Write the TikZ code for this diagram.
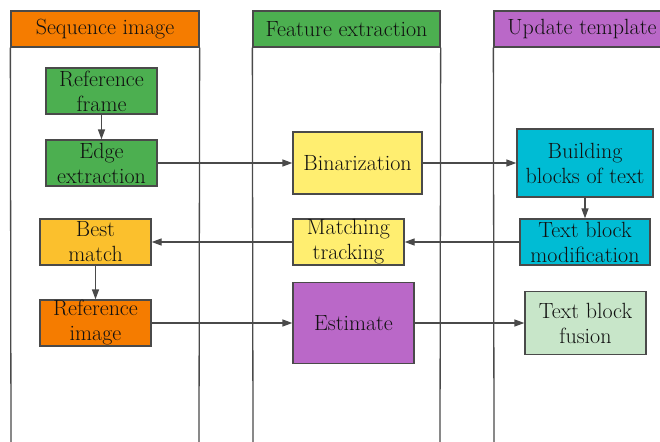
\documentclass[tikz,border=0pt]{standalone}
\usetikzlibrary{arrows.meta}
\definecolor{lineclr}{HTML}{4A4A4A}
\definecolor{txtclr}{HTML}{111111}
\definecolor{laneorange}{HTML}{F57C00}
\definecolor{lanegreen}{HTML}{4CAF50}
\definecolor{lanepurple}{HTML}{BA68C8}
\definecolor{boxyellow}{HTML}{FFEE70}
\definecolor{boxcyan}{HTML}{00BCD4}
\definecolor{boxamber}{HTML}{FBC02D}
\definecolor{boxmint}{HTML}{C8E6C9}
\tikzset{
  base/.style={draw=lineclr, line width=1.3pt, rectangle, inner sep=0pt,
    align=center, text=txtclr, font=\fontsize{22}{25}\selectfont},
  header/.style={base, minimum height=36pt},
  stepbox/.style={base},
  lane/.style={draw=lineclr, line width=1.3pt},
  flow/.style={draw=lineclr, line width=1.3pt,
    -{Triangle[length=10pt,width=7pt]}},
}
\begin{document}
\begin{tikzpicture}[x=1pt,y=-1pt]
\useasboundingbox (0,0) rectangle (660,441);
% swimlane headers
\node[header, fill=laneorange, minimum width=188pt] (h1) at (105,29) {Sequence image};
\node[header, fill=lanegreen, minimum width=187pt] (h2) at (346.5,29) {Feature extraction};
\node[header, fill=lanepurple, minimum width=176pt] (h3) at (582,29) {Update template};
% swimlane borders
\coordinate (b1l) at (11,445);
\coordinate (b1r) at (199,445);
\coordinate (b2l) at (253,445);
\coordinate (b2r) at (440,445);
\coordinate (b3l) at (494,445);
\draw[lane] (h1.south west) -- (b1l);
\draw[lane] (h1.south east) -- (b1r);
\draw[lane] (h2.south west) -- (b2l);
\draw[lane] (h2.south east) -- (b2r);
\draw[lane] (h3.south west) -- (b3l);
% process steps
\node[stepbox, fill=lanegreen, minimum width=111pt, minimum height=46pt] (refframe) at (101.5,91) {Reference\\frame};
\node[stepbox, fill=lanegreen, minimum width=111pt, minimum height=46pt] (edge) at (101.5,163) {Edge\\extraction};
\node[stepbox, fill=boxyellow, minimum width=129pt, minimum height=62pt] (bin) at (357.5,163) {Binarization};
\node[stepbox, fill=boxcyan, minimum width=136pt, minimum height=68pt] (build) at (585,163) {Building\\blocks of text};
\node[stepbox, fill=boxcyan, minimum width=130pt, minimum height=46pt] (tbmod) at (585,242) {Text block\\modification};
\node[stepbox, fill=boxyellow, minimum width=111pt, minimum height=46pt] (match) at (348.5,242) {Matching\\tracking};
\node[stepbox, fill=boxamber, minimum width=111pt, minimum height=46pt] (best) at (95.5,242) {Best\\match};
\node[stepbox, fill=laneorange, minimum width=111pt, minimum height=46pt] (refimg) at (95.5,323) {Reference\\image};
\node[stepbox, fill=lanepurple, minimum width=121pt, minimum height=81pt] (est) at (353.5,323) {Estimate};
\node[stepbox, fill=boxmint, minimum width=121pt, minimum height=63pt] (fusion) at (585.5,323) {Text block\\fusion};
% connectors
\draw[flow] (refframe) -- (edge);
\draw[flow] (edge) -- (bin);
\draw[flow] (bin) -- (build);
\draw[flow] (build) -- (tbmod);
\draw[flow] (tbmod) -- (match);
\draw[flow] (match) -- (best);
\draw[flow] (best) -- (refimg);
\draw[flow] (refimg) -- (est);
\draw[flow] (est) -- (fusion);
\end{tikzpicture}
\end{document}
